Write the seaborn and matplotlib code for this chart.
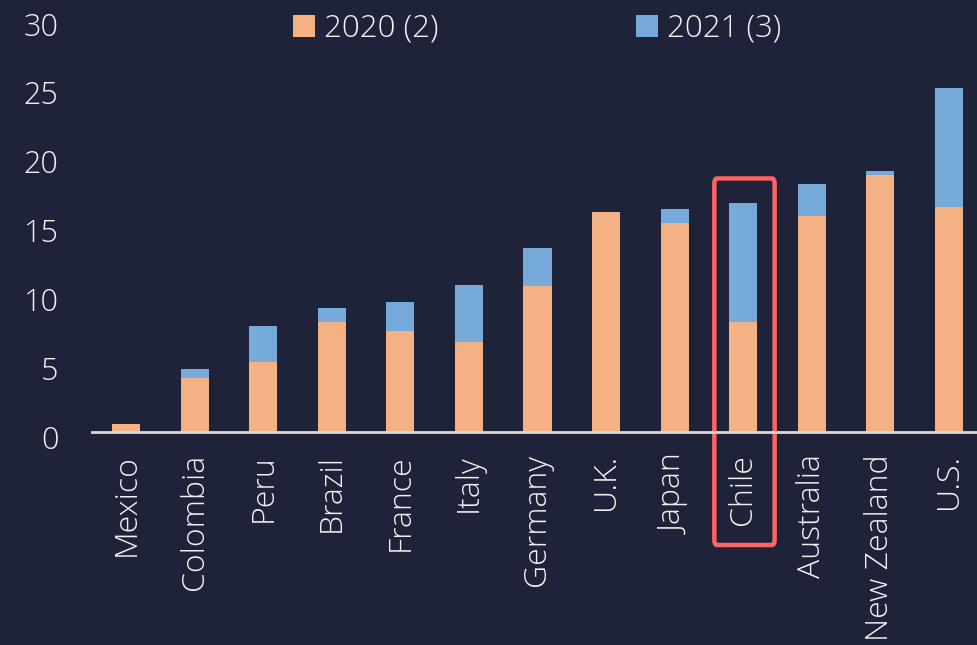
import numpy as np
import pandas as pd
import matplotlib
matplotlib.use("Agg")
import matplotlib.pyplot as plt
import matplotlib.transforms as mtransforms
from matplotlib.patches import Patch, FancyBboxPatch
import seaborn as sns

# data
countries = ["Mexico", "Colombia", "Peru", "Brazil", "France", "Italy", "Germany",
             "U.K.", "Japan", "Chile", "Australia", "New Zealand", "U.S."]
vals_2020 = [0.6, 3.95, 5.1, 8.0, 7.35, 6.55, 10.6, 16.0, 15.2, 8.0, 15.7, 18.65, 16.35]
vals_2021 = [0.0, 0.6, 2.6, 1.0, 2.1, 4.1, 2.75, 0.0, 1.0, 8.6, 2.3, 0.3, 8.65]
legend_labels = ["2020 (2)", "2021 (3)"]

bg = "#1f2339"
orange = "#f4b183"
blue = "#76aadb"
txt = "#f2f2f2"

df = pd.DataFrame({"country": countries, "y2020": vals_2020, "y2021": vals_2021})
df["total"] = df["y2020"] + df["y2021"]

sns.set_style("dark")
plt.rcParams["font.family"] = ["Open Sans", "DejaVu Sans"]
plt.rcParams["font.weight"] = "light"

fig = plt.figure(figsize=(9.78, 6.45), dpi=100, facecolor=bg)
ax = fig.add_axes([92 / 978, 213 / 645, 891 / 978, 413.4 / 645])
ax.set_facecolor(bg)

# stacked bars: total in blue underneath, 2020 in orange on top
sns.barplot(data=df, x="country", y="total", color=blue, width=0.41,
            saturation=1, linewidth=0, ax=ax)
sns.barplot(data=df, x="country", y="y2020", color=orange, width=0.41,
            saturation=1, linewidth=0, ax=ax)

ax.set_xlim(-0.5, 12.5)
ax.set_ylim(0, 30)
ax.set_yticks([0, 5, 10, 15, 20, 25, 30])
ax.set_xlabel("")
ax.set_ylabel("")
ax.grid(False)

for s in ["top", "right", "left"]:
    ax.spines[s].set_visible(False)
ax.spines["bottom"].set_color("#d9d9d9")
ax.spines["bottom"].set_linewidth(2)

ax.tick_params(axis="x", colors="#d9d9d9", length=6, width=1.6, direction="out",
               pad=10, labelsize=23, labelcolor=txt, labelrotation=90)
ax.tick_params(axis="y", length=0, pad=24, labelsize=22, labelcolor=txt)

offset = mtransforms.ScaledTranslation(0, -5 / 100, fig.dpi_scale_trans)
for lab in ax.get_yticklabels():
    lab.set_transform(lab.get_transform() + offset)

# red highlight box around Chile
box = FancyBboxPatch((8.58, -8.2), 0.88, 26.6, boxstyle="round,pad=0,rounding_size=0.04",
                     fill=False, edgecolor="#ff6464", linewidth=3.2, clip_on=False,
                     mutation_aspect=10)
ax.add_patch(box)

handles = [Patch(facecolor=orange, edgecolor="none"), Patch(facecolor=blue, edgecolor="none")]
fig.legend(handles, legend_labels, loc="upper left", bbox_to_anchor=(293 / 978, 1 - 13 / 645),
           ncol=2, frameon=False, fontsize=22.5, labelcolor=txt, handlelength=0.7,
           handleheight=0.7, handletextpad=0.3, columnspacing=6.3, borderpad=0,
           borderaxespad=0)

fig.savefig("out.png", dpi=100, facecolor=bg)
